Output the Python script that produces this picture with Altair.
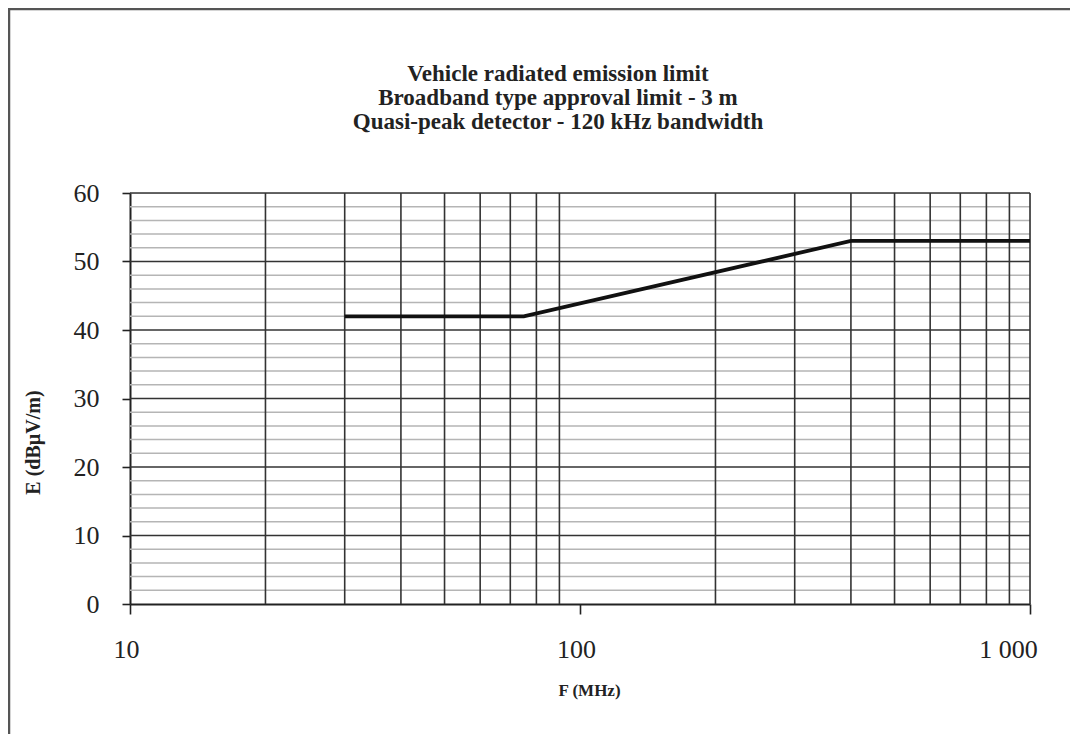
import altair as alt
import pandas as pd

# Limit line (frequency MHz, field strength dBµV/m)
freq = [30, 75, 400, 1000]
level = [42, 42, 53, 53]

# Grid values
minor_y = [v for v in range(2, 60, 2) if v % 10 != 0]
major_y = [10, 20, 30, 40, 50, 60]
grid_x = [20, 30, 40, 50, 60, 70, 80, 90, 200, 300, 400, 500, 600, 700, 800, 900, 1000]
x_ticks = [10, 100, 1000]
y_ticks = [0, 10, 20, 30, 40, 50, 60]

title_lines = [
    "Vehicle radiated emission limit",
    "Broadband type approval limit - 3 m",
    "Quasi-peak detector - 120 kHz bandwidth",
]

FONT = "Liberation Serif"

xs = alt.Scale(type="log", domain=[10, 1000], nice=False)
ys = alt.Scale(domain=[0, 60], nice=False)

x_axis = alt.Axis(
    values=x_ticks,
    grid=False,
    tickSize=10,
    tickColor="#222",
    tickWidth=1.6,
    domainColor="#222",
    domainWidth=2,
    labelFont=FONT,
    labelFontSize=26,
    labelColor="#222",
    labelPadding=22,
    labelFlush=False,
    labelOffset={"condition": {"test": "datum.value == 1000", "value": -22}, "value": -4},
    labelExpr="datum.value == 1000 ? '1 000' : datum.label",
    titleFont=FONT,
    titleFontSize=17,
    titleFontWeight="bold",
    titleColor="#222",
    titleBaseline="middle",
    titleAlign="center",
    titleX=459,
    titleY=86,
)
y_axis = alt.Axis(
    values=y_ticks,
    grid=False,
    tickSize=8,
    tickColor="#222",
    tickWidth=1.6,
    domainColor="#222",
    domainWidth=2,
    labelFont=FONT,
    labelFontSize=26,
    labelColor="#222",
    labelPadding=23,
    titleFont=FONT,
    titleFontSize=20,
    titleFontWeight="bold",
    titleColor="#222",
    titleBaseline="middle",
    titleAlign="center",
    titleX=-97,
    titleY=249,
)

line_df = pd.DataFrame({"f": freq, "e": level})
miny_df = pd.DataFrame({"e": minor_y})
majy_df = pd.DataFrame({"e": major_y})
gx_df = pd.DataFrame({"f": grid_x})

minor_h = alt.Chart(miny_df).mark_rule(color="#b5b5b5", strokeWidth=1.5).encode(
    y=alt.Y("e:Q", scale=ys, axis=y_axis, title="E (dBµV/m)")
)
major_h = alt.Chart(majy_df).mark_rule(color="#333333", strokeWidth=1.6).encode(
    y=alt.Y("e:Q", scale=ys, axis=y_axis, title="E (dBµV/m)")
)
vert = alt.Chart(gx_df).mark_rule(color="#333333", strokeWidth=1.6).encode(
    x=alt.X("f:Q", scale=xs, axis=x_axis, title="F (MHz)")
)

line = alt.Chart(line_df).mark_line(color="#111111", strokeWidth=3.8).encode(
    x=alt.X("f:Q", scale=xs, axis=x_axis, title="F (MHz)"),
    y=alt.Y("e:Q", scale=ys, axis=y_axis, title="E (dBµV/m)"),
)

# Title block drawn as text
title_txt = alt.Chart(pd.DataFrame({"a": [0]})).mark_text(
    font=FONT,
    fontSize=23,
    fontWeight="bold",
    color="#222",
    align="center",
    baseline="alphabetic",
    lineHeight=24,
).encode(
    x=alt.value(428),
    y=alt.value(-112),
    text=alt.value(title_lines),
)

# Decorative outer frame (top and left edges)
frame_top = alt.Chart(pd.DataFrame({"a": [0]})).mark_rule(color="#555", strokeWidth=2.5).encode(
    x=alt.value(-122), x2=alt.value(960), y=alt.value(-184)
)
frame_left = alt.Chart(pd.DataFrame({"a": [0]})).mark_rule(color="#555", strokeWidth=2.5).encode(
    x=alt.value(-121), y=alt.value(-184), y2=alt.value(560)
)

chart = alt.layer(minor_h, major_h, vert, line, title_txt, frame_top, frame_left).properties(
    width=900,
    height=411,
    autosize=alt.AutoSizeParams(type="none"),
    padding={"left": 122, "top": 185, "right": 40, "bottom": 130},
).configure_view(stroke=None).configure(background="white")

chart.save("out.html", embed_options={"renderer": "svg", "actions": False})
